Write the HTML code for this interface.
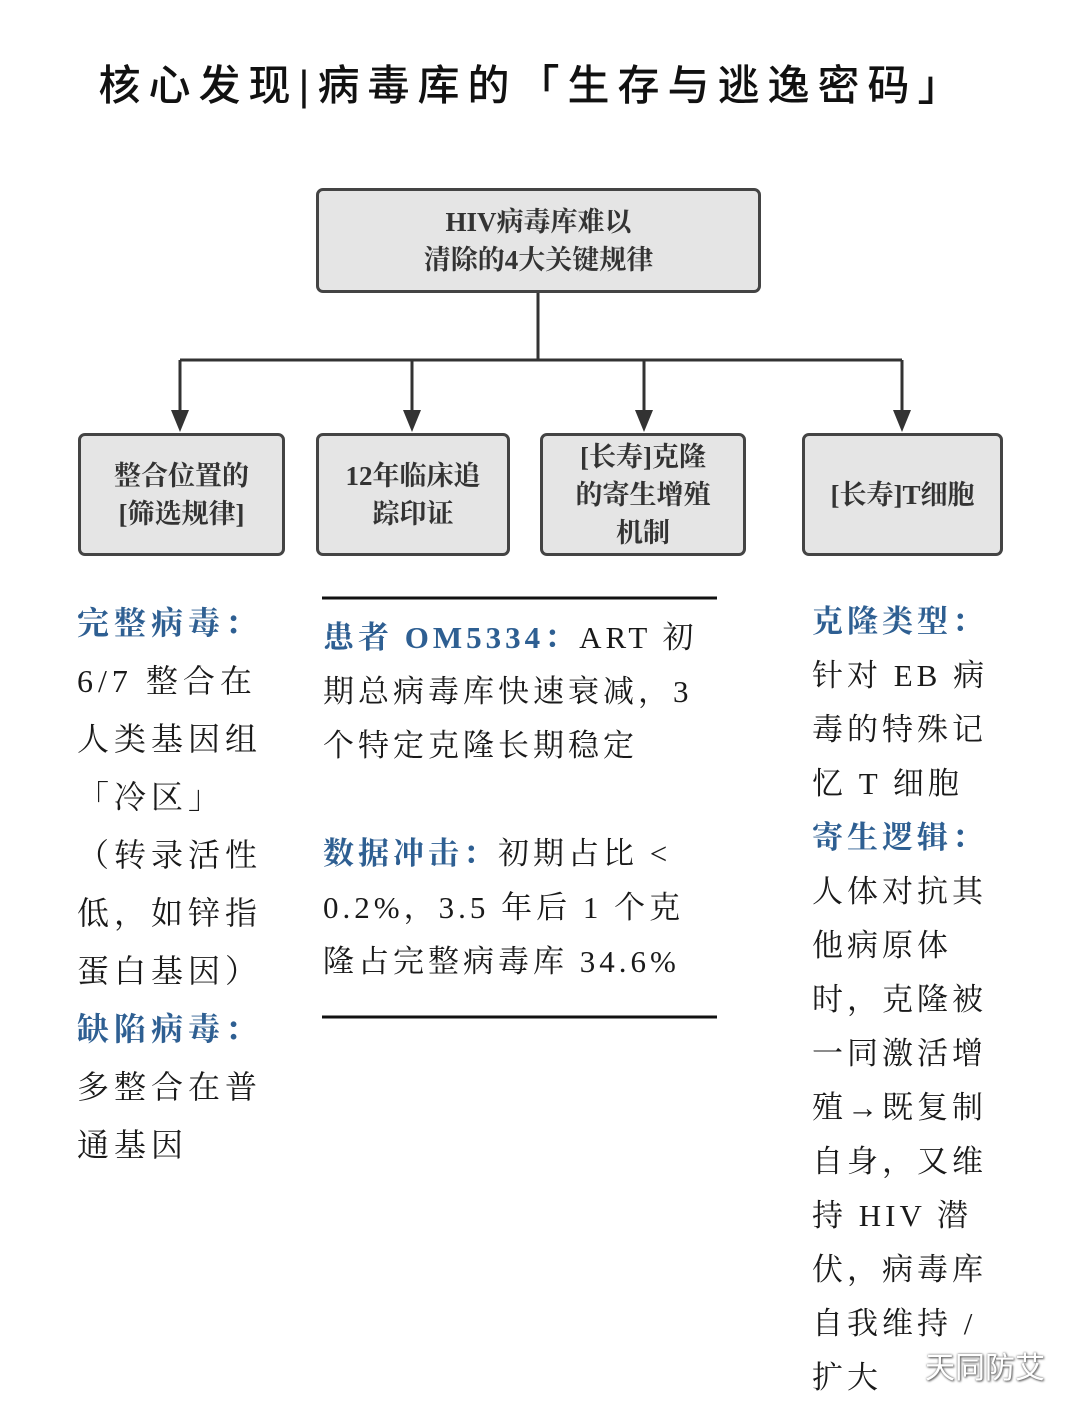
<!DOCTYPE html>
<html><head><meta charset="utf-8"><style>
body{margin:0;width:1080px;height:1401px;background:#fff;position:relative;overflow:hidden;font-family:"Liberation Serif","Noto Serif CJK SC",serif;color:#1a1a1a}
.t{position:absolute;white-space:nowrap}
.title{left:0;width:1066px;text-align:center;top:52px;font-family:"Liberation Sans","Noto Sans CJK SC",sans-serif;font-size:42px;letter-spacing:8px;font-weight:500;color:#111}
.box{position:absolute;background:#e5e5e5;border:3px solid #444;border-radius:7px;box-sizing:border-box;display:flex;align-items:center;justify-content:center;text-align:center;font-weight:bold;font-size:27px;line-height:38px;color:#333}
.col{position:absolute;font-size:32px;letter-spacing:5px}
.col div{height:58px;line-height:58px;white-space:nowrap}
.b{color:#2e5f92;font-weight:bold}
.m div{height:54px;line-height:54px}
.r div{height:54px;line-height:54px}
</style></head><body>
<div class="t title">核心发现|病毒库的「生存与逃逸密码」</div>
<svg width="1080" height="1401" style="position:absolute;left:0;top:0">
<g stroke="#333" stroke-width="3" fill="none">
<line x1="538" y1="292" x2="538" y2="360"/>
<line x1="180" y1="360" x2="902" y2="360"/>
<line x1="180" y1="360" x2="180" y2="415"/>
<line x1="412" y1="360" x2="412" y2="415"/>
<line x1="644" y1="360" x2="644" y2="415"/>
<line x1="902" y1="360" x2="902" y2="415"/>
</g>
<g fill="#333">
<polygon points="171,410 189,410 180,432"/>
<polygon points="403,410 421,410 412,432"/>
<polygon points="635,410 653,410 644,432"/>
<polygon points="893,410 911,410 902,432"/>
</g>
<line x1="322" y1="598" x2="717" y2="598" stroke="#111" stroke-width="3"/>
<line x1="322" y1="1017" x2="717" y2="1017" stroke="#111" stroke-width="3"/>
</svg>
<div class="box" style="left:316px;top:188px;width:445px;height:105px">HIV病毒库难以<br>清除的4大关键规律</div>
<div class="box" style="left:78px;top:433px;width:207px;height:123px">整合位置的<br>[筛选规律]</div>
<div class="box" style="left:316px;top:433px;width:194px;height:123px">12年临床追<br>踪印证</div>
<div class="box" style="left:540px;top:433px;width:206px;height:123px">[长寿]克隆<br>的寄生增殖<br>机制</div>
<div class="box" style="left:802px;top:433px;width:201px;height:123px">[长寿]T细胞</div>
<div class="col" style="left:77px;top:594px">
<div class="b">完整病毒：</div><div>6/7 整合在</div><div>人类基因组</div><div>「冷区」</div><div>（转录活性</div><div>低，如锌指</div><div>蛋白基因）</div><div class="b">缺陷病毒：</div><div>多整合在普</div><div>通基因</div></div>
<div class="col m" style="left:323px;top:611px;font-size:31px;letter-spacing:4px">
<div><span class="b">患者 OM5334：</span>ART 初</div><div>期总病毒库快速衰减，3</div><div>个特定克隆长期稳定</div><div></div><div><span class="b">数据冲击：</span>初期占比 &lt;</div><div>0.2%，3.5 年后 1 个克</div><div>隆占完整病毒库 34.6%</div></div>
<div class="col r" style="left:812px;top:595px;font-size:31px;letter-spacing:4px">
<div class="b">克隆类型：</div><div>针对 EB 病</div><div>毒的特殊记</div><div>忆 T 细胞</div><div class="b">寄生逻辑：</div><div>人体对抗其</div><div>他病原体</div><div>时，克隆被</div><div>一同激活增</div><div>殖→既复制</div><div>自身，又维</div><div>持 HIV 潜</div><div>伏，病毒库</div><div>自我维持 /</div><div>扩大</div></div>
<div class="t" style="left:925px;top:1343px;font-family:'Liberation Sans','Noto Sans CJK SC',sans-serif;font-size:30px;color:#fff;text-shadow:0 0 2px #666,1px 1px 2px #555">天同防艾</div>
</body></html>
